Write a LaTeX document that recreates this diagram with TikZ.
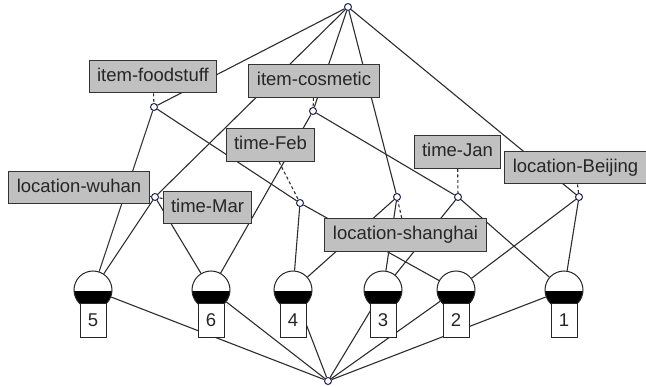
\documentclass[tikz,border=0pt]{standalone}
\usepackage{fontspec}
\setmainfont{Liberation Sans}
\usetikzlibrary{backgrounds}
\definecolor{boxgray}{RGB}{192,192,192}
\definecolor{navy}{RGB}{30,30,90}
\definecolor{linegray}{RGB}{45,45,45}

\begin{document}
\begin{tikzpicture}[x=1pt,y=-1pt,
    concept/.style={circle, draw=navy, fill=white, line width=1pt, minimum size=7pt, inner sep=0pt},
    attr/.style={draw=black!80, fill=boxgray, line width=1pt, inner xsep=8pt, inner ysep=7.7pt,
                 text height=13.5pt, text depth=4pt, text=black!85, font=\fontsize{18.5}{20}\selectfont},
    obj/.style={circle, draw=black!85, fill=white, line width=1pt, minimum size=38pt, inner sep=0pt,
                path picture={\fill[black] ([yshift=-1pt]path picture bounding box.west) rectangle (path picture bounding box.south east);}},
    num/.style={draw=black!85, fill=white, line width=1pt, minimum width=26pt, minimum height=34pt, inner sep=0pt,
                anchor=north, text=black!85, font=\fontsize{18.5}{20}\selectfont},
    link/.style={draw=linegray, line width=1.1pt},
    conn/.style={draw=linegray, line width=1.1pt, dash pattern=on 3pt off 2.5pt}
]
\useasboundingbox (0,0) rectangle (646,387);

% concept nodes
\node[concept] (top) at (348,7) {};
\node[concept] (a) at (154,107) {};
\node[concept] (b) at (313,111) {};
\node[concept] (c) at (155,197) {};
\node[concept] (d) at (300,203) {};
\node[concept] (e) at (397,197) {};
\node[concept] (f) at (458,197) {};
\node[concept] (g) at (579,197) {};
\node[concept] (bot) at (328,381) {};

% object concepts with their numbers
\foreach \k/\x in {5/93,6/211,4/293,3/383,2/456,1/564} {
  \node[obj] (o\k) at (\x,290) {};
  \node[num] (n\k) at (\x,303) {\k};
}

% attribute labels
\node[attr] (lFood) at (153,76.5) {item-foodstuff};
\node[attr] (lCos) at (314,81) {item-cosmetic};
\node[attr] (lFeb) at (270.5,145) {time-Feb};
\node[attr] (lJan) at (457.5,152) {time-Jan};
\node[attr] (lBei) at (575.5,167.5) {location-Beijing};
\node[attr] (lWuh) at (79,187.5) {location-wuhan};
\node[attr] (lMar) at (207.5,207.5) {time-Mar};
\node[attr] (lSha) at (405.5,235) {location-shanghai};

\begin{pgfonlayer}{background}
\foreach \p/\q in {top/a,top/b,top/c,top/e,top/g,a/o5,a/d,c/o5,c/o6,b/o6,b/f,
                   d/o4,d/o2,e/o4,e/o3,f/o3,f/o1,g/o2,g/o1} {
  \draw[link] (\p) -- (\q);
}
\foreach \k in {1,...,6} {
  \draw[link] (o\k) -- (bot);
}
% labels to their concepts
\foreach \l/\c in {lFood/a,lCos/b,lFeb/d,lJan/f,lBei/g,lWuh/c,lMar/c,lSha/e} {
  \draw[conn] (\l) -- (\c);
}
\end{pgfonlayer}
\end{tikzpicture}
\end{document}
